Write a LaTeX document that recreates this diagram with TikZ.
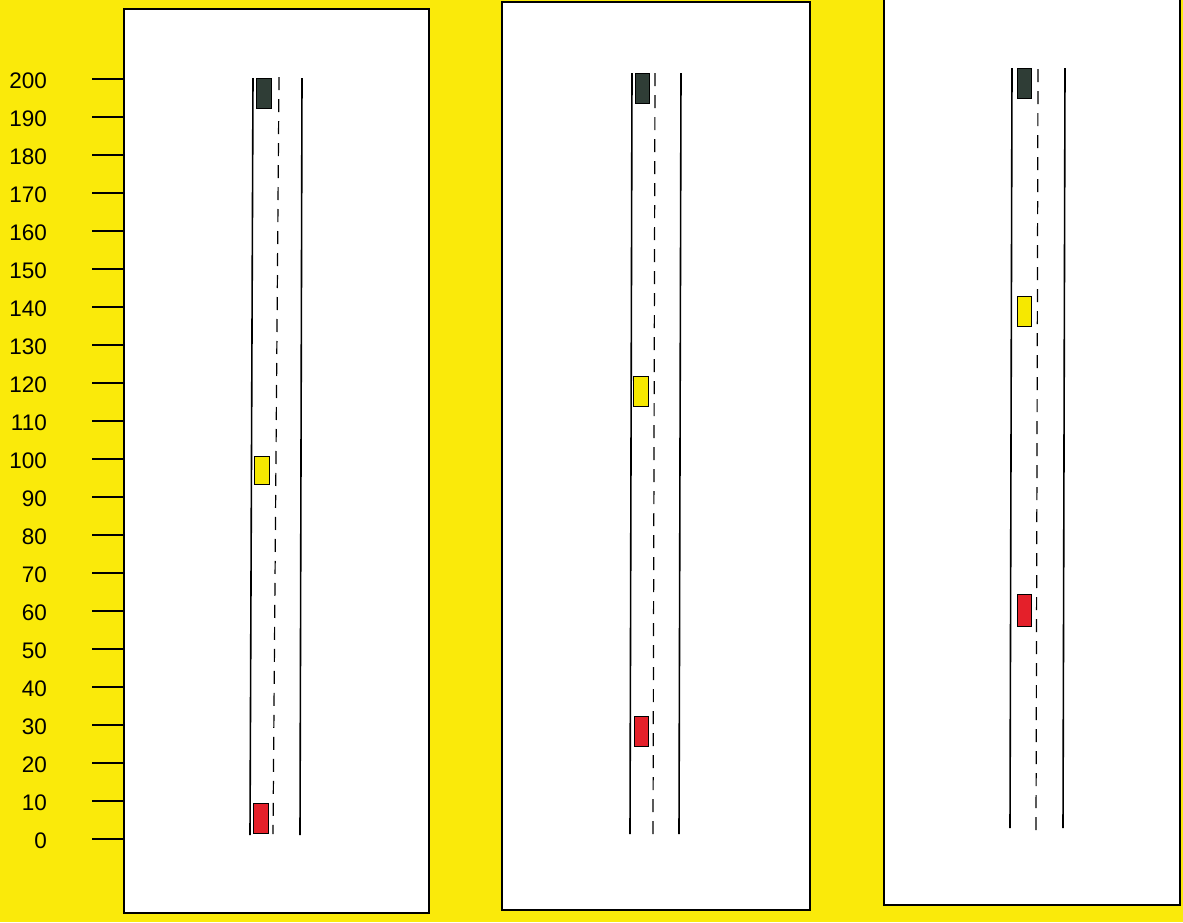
\documentclass[tikz,border=0pt]{standalone}
\usepackage{fontspec}
\setmainfont{Liberation Sans}
\definecolor{bgyellow}{HTML}{FAEA0A}
\definecolor{cardark}{HTML}{2F3D36}
\definecolor{caryellow}{HTML}{F6E800}
\definecolor{carred}{HTML}{E4202A}
\begin{document}
\begin{tikzpicture}[x=1pt,y=-1pt,
  panel/.style={draw=black,fill=white,line width=1.6pt},
  roadline/.style={draw=black,line width=1.6pt},
  centerline/.style={draw=black,line width=1.2pt,dash pattern=on 13pt off 9pt},
  car/.style={draw=black,line width=0.7pt,rectangle,inner sep=0pt,outer sep=0pt,minimum width=14.5pt,minimum height=30pt},
  tick/.style={draw=black,line width=1.2pt},
  lab/.style={anchor=east,inner sep=0pt,font=\fontsize{22.5}{26}\selectfont}]
\useasboundingbox (0,0) rectangle (1183,922);
\fill[bgyellow] (0,0) rectangle (1183,922);
% panels
\draw[panel] (124,9) rectangle (429,913);
\draw[panel] (502,2) rectangle (810,910);
\draw[panel] (884,-3) rectangle (1180,905);
% axis ticks and labels
\foreach \v in {0,10,...,200}{
  \coordinate (t\v) at (92,{839-3.8*\v});
  \coordinate (e\v) at (123,{839-3.8*\v});
  \draw[tick] (t\v) -- (e\v);
  \node[lab] (l\v) at (47,{841-3.8*\v}) {\v};
}
% panel 1 road
\coordinate (a1) at (253,78); \coordinate (b1) at (250,835);
\coordinate (c1) at (302,78); \coordinate (d1) at (300,835);
\coordinate (m1) at (279,77); \coordinate (n1) at (273,834);
\draw[roadline] (a1) -- (b1);
\draw[roadline] (c1) -- (d1);
\draw[centerline] (m1) -- (n1);
\node[car,fill=cardark] (k1) at (264,93) {};
\node[car,fill=caryellow,minimum height=28pt] (y1) at (262,470) {};
\node[car,fill=carred] (r1) at (261,818) {};
% panel 2 road
\coordinate (a2) at (632,73); \coordinate (b2) at (630,834);
\coordinate (c2) at (681,73); \coordinate (d2) at (679,834);
\coordinate (m2) at (655,73); \coordinate (n2) at (653,834);
\draw[roadline] (a2) -- (b2);
\draw[roadline] (c2) -- (d2);
\draw[centerline] (m2) -- (n2);
\node[car,fill=cardark] (k2) at (642.5,88.5) {};
\node[car,fill=caryellow] (y2) at (641,391) {};
\node[car,fill=carred] (r2) at (641.5,731.5) {};
% panel 3 road
\coordinate (a3) at (1012,68); \coordinate (b3) at (1010,828);
\coordinate (c3) at (1065,68); \coordinate (d3) at (1063,828);
\coordinate (m3) at (1038,69); \coordinate (n3) at (1036,830);
\draw[roadline] (a3) -- (b3);
\draw[roadline] (c3) -- (d3);
\draw[centerline] (m3) -- (n3);
\node[car,fill=cardark] (k3) at (1024.5,83) {};
\node[car,fill=caryellow] (y3) at (1024.5,311) {};
\node[car,fill=carred,minimum height=32pt] (r3) at (1024.5,610) {};
\end{tikzpicture}
\end{document}
